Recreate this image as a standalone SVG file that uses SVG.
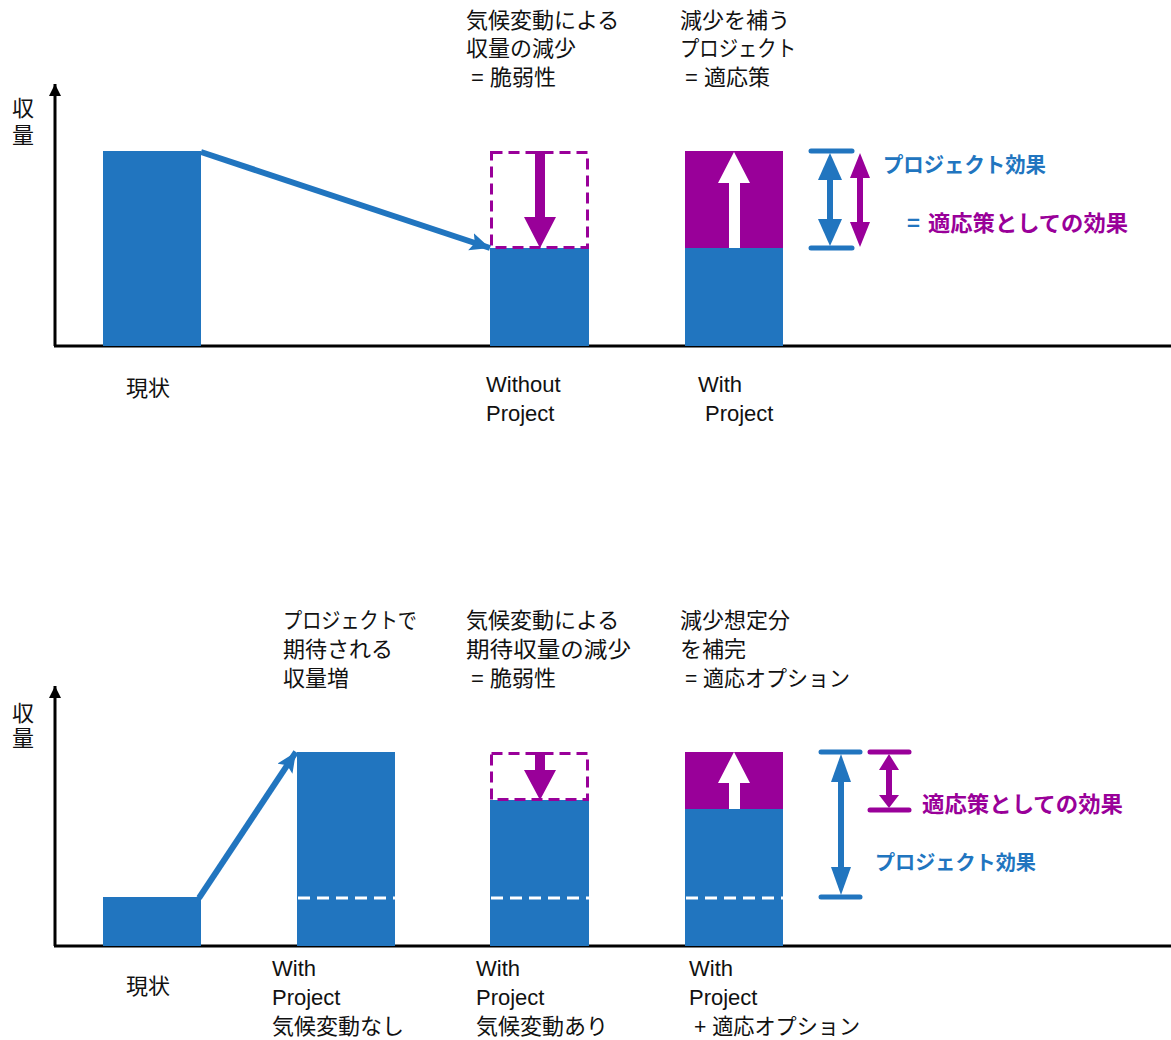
<svg xmlns="http://www.w3.org/2000/svg" width="1171" height="1040" viewBox="0 0 1171 1040">
<style>
.t{font-family:"Liberation Sans","Noto Sans CJK JP",sans-serif;font-size:22px;fill:#111}
.b{font-family:"Noto Sans CJK JP","Liberation Sans",sans-serif;font-size:21px;font-weight:bold}
.blue{fill:#2175BF}
.pur{fill:#990099}
.axis{stroke:#000;stroke-width:3;fill:none}
.dashP{fill:none;stroke:#990099;stroke-width:3;stroke-dasharray:11 6}
.dashW{stroke:#fff;stroke-width:3;stroke-dasharray:12 7}
.conn{stroke:#2175BF;stroke-width:6;fill:none}
.capB{stroke:#2175BF;stroke-width:5;stroke-linecap:round}
.capP{stroke:#990099;stroke-width:5;stroke-linecap:round}
</style>
<defs>
<marker id="ah" markerUnits="userSpaceOnUse" markerWidth="24" markerHeight="20" refX="20" refY="9" orient="auto">
<path d="M0,0 L20,9 L0,18 L4,9 z" fill="#2175BF"/>
</marker>
<marker id="ax" markerUnits="userSpaceOnUse" markerWidth="14" markerHeight="14" refX="12" refY="6" orient="auto">
<path d="M0,0 L12,6 L0,12 z" fill="#000"/>
</marker>
</defs>

<!-- TOP CHART -->
<g id="top-axes">
<line class="axis" x1="55" y1="346" x2="55" y2="84" marker-end="url(#ax)"/>
<line class="axis" x1="54" y1="346" x2="1171" y2="346"/>
<text class="t" x="12" y="116">収</text>
<text class="t" x="12" y="143">量</text>
</g>
<g id="top-current">
<rect class="blue" x="103" y="151" width="98" height="195"/>
<text class="t" x="126" y="396">現状</text>
</g>
<g id="top-without">
<rect class="blue" x="490" y="248" width="99" height="98"/>
<rect class="dashP" x="491.5" y="152.5" width="96" height="95"/>
<polygon class="pur" points="535,151 545,151 545,217 556,217 540,248 524,217 535,217"/>
<text class="t" x="466" y="28">気候変動による</text>
<text class="t" x="466" y="56">収量の減少</text>
<text class="t" x="471" y="85">= 脆弱性</text>
<text class="t" x="486" y="392">Without</text>
<text class="t" x="486" y="421">Project</text>
</g>
<g id="top-with">
<rect class="blue" x="685" y="248" width="98" height="98"/>
<rect class="pur" x="685" y="151" width="98" height="97"/>
<polygon fill="#fff" points="729,248 740,248 740,183 750,183 734,152 718,183 729,183"/>
<text class="t" x="680" y="28">減少を補う</text>
<text class="t" x="680" y="56" textLength="116" lengthAdjust="spacingAndGlyphs">プロジェクト</text>
<text class="t" x="685" y="85">= 適応策</text>
<text class="t" x="698" y="392">With</text>
<text class="t" x="705" y="421">Project</text>
</g>
<g id="top-effect">
<line class="capB" x1="811" y1="151" x2="852" y2="151"/>
<line class="capB" x1="811" y1="248" x2="852" y2="248"/>
<rect class="blue" x="827" y="175" width="6" height="50"/>
<polygon class="blue" points="830,153 842,180 818,180"/>
<polygon class="blue" points="830,246 842,219 818,219"/>
<rect class="pur" x="857" y="174" width="6" height="52"/>
<polygon class="pur" points="860,153 870,178 850,178"/>
<polygon class="pur" points="860,247 870,222 850,222"/>
<text class="b blue" x="883" y="172" textLength="163" lengthAdjust="spacingAndGlyphs">プロジェクト効果</text>
<text class="b blue" x="907" y="231" style="font-size:22px">=</text>
<text class="b pur" x="928" y="231" style="font-size:22px" textLength="200" lengthAdjust="spacingAndGlyphs">適応策としての効果</text>
</g>

<!-- BOTTOM CHART -->
<g id="bot-axes">
<line class="axis" x1="55" y1="946" x2="55" y2="686" marker-end="url(#ax)"/>
<line class="axis" x1="54" y1="946" x2="1171" y2="946"/>
<text class="t" x="12" y="721">収</text>
<text class="t" x="12" y="746">量</text>
</g>
<g id="bot-current">
<rect class="blue" x="103" y="897" width="98" height="49"/>
<text class="t" x="126" y="994">現状</text>
</g>
<g id="bot-wp-nocc">
<rect class="blue" x="297" y="752" width="98" height="194"/>
<line class="dashW" x1="298" y1="898" x2="395" y2="898"/>
<text class="t" x="283" y="628" textLength="134" lengthAdjust="spacingAndGlyphs">プロジェクトで</text>
<text class="t" x="283" y="657">期待される</text>
<text class="t" x="283" y="686">収量増</text>
<text class="t" x="272" y="976">With</text>
<text class="t" x="272" y="1005">Project</text>
<text class="t" x="272" y="1034">気候変動なし</text>
</g>
<g id="bot-wp-cc">
<rect class="blue" x="490" y="800" width="99" height="146"/>
<rect class="dashP" x="491.5" y="753.5" width="96" height="46"/>
<line class="dashW" x1="491" y1="898" x2="589" y2="898"/>
<polygon class="pur" points="535,752 545,752 545,770 556,770 540,800 524,770 535,770"/>
<text class="t" x="466" y="628">気候変動による</text>
<text class="t" x="466" y="657" textLength="165" lengthAdjust="spacingAndGlyphs">期待収量の減少</text>
<text class="t" x="471" y="686">= 脆弱性</text>
<text class="t" x="476" y="976">With</text>
<text class="t" x="476" y="1005">Project</text>
<text class="t" x="476" y="1034">気候変動あり</text>
</g>
<g id="bot-wp-adapt">
<rect class="blue" x="685" y="809" width="98" height="137"/>
<rect class="pur" x="685" y="752" width="98" height="57"/>
<line class="dashW" x1="686" y1="898" x2="783" y2="898"/>
<polygon fill="#fff" points="729,809 740,809 740,783 750,783 734,752 718,783 729,783"/>
<text class="t" x="680" y="628">減少想定分</text>
<text class="t" x="680" y="657">を補完</text>
<text class="t" x="685" y="686" textLength="165" lengthAdjust="spacingAndGlyphs">= 適応オプション</text>
<text class="t" x="689" y="976">With</text>
<text class="t" x="689" y="1005">Project</text>
<text class="t" x="694" y="1034" textLength="166" lengthAdjust="spacingAndGlyphs">+ 適応オプション</text>
</g>
<g id="bot-effect">
<line class="capB" x1="821" y1="752" x2="860" y2="752"/>
<line class="capB" x1="821" y1="897" x2="860" y2="897"/>
<rect class="blue" x="838" y="780" width="6" height="90"/>
<polygon class="blue" points="841,754 851,782 831,782"/>
<polygon class="blue" points="841,895 851,867 831,867"/>
<line class="capP" x1="870" y1="752" x2="909" y2="752"/>
<line class="capP" x1="870" y1="810" x2="909" y2="810"/>
<rect class="pur" x="886" y="768" width="6" height="30"/>
<polygon class="pur" points="889,754 899,770 879,770"/>
<polygon class="pur" points="889,808 899,795 879,795"/>
<text class="b pur" x="922" y="812" style="font-size:22px" textLength="201" lengthAdjust="spacingAndGlyphs">適応策としての効果</text>
<text class="b blue" x="875" y="870" style="font-size:20px" textLength="161" lengthAdjust="spacingAndGlyphs">プロジェクト効果</text>
</g>

<g id="connectors">
<line class="conn" x1="201" y1="152" x2="490" y2="248" marker-end="url(#ah)"/>
<line class="conn" x1="199" y1="898" x2="296" y2="752" marker-end="url(#ah)"/>
</g>
</svg>
